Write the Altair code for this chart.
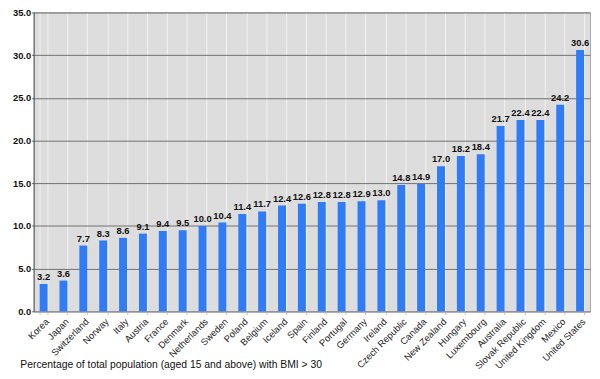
import altair as alt
import pandas as pd

countries = ["Korea", "Japan", "Switzerland", "Norway", "Italy", "Austria", "France",
             "Denmark", "Netherlands", "Sweden", "Poland", "Belgium", "Iceland", "Spain",
             "Finland", "Portugal", "Germany", "Ireland", "Czech Republic", "Canada",
             "New Zealand", "Hungary", "Luxembourg", "Australia", "Slovak Republic",
             "United Kingdom", "Mexico", "United States"]
values = [3.2, 3.6, 7.7, 8.3, 8.6, 9.1, 9.4, 9.5, 10.0, 10.4, 11.4, 11.7, 12.4, 12.6,
          12.8, 12.8, 12.9, 13.0, 14.8, 14.9, 17.0, 18.2, 18.4, 21.7, 22.4, 22.4, 24.2, 30.6]

df = pd.DataFrame({"country": countries, "value": values})

FONT = "Liberation Sans"

x = alt.X("country:N", sort=countries,
          scale=alt.Scale(paddingInner=0.6, paddingOuter=0.3),
          axis=alt.Axis(title="Percentage of total population (aged 15 and above) with BMI > 30",
                        titleFont=FONT, titleFontSize=10.5, titleFontWeight="normal",
                        titleAnchor="start", titleAlign="left", titleX=-14, titleY=54,
                        titleBaseline="middle", titleColor="#111",
                        labelAngle=-45, labelAlign="right", labelBaseline="top",
                        labelFont=FONT, labelFontSize=9.5, labelColor="#222",
                        labelPadding=2,
                        grid=True, gridColor="#F2F2F2", gridWidth=1, tickBand="extent",
                        ticks=True, tickColor="#BBBBBB", tickSize=3,
                        domain=True, domainColor="#999999"))
y = alt.Y("value:Q",
          scale=alt.Scale(domain=[0, 35], nice=False),
          axis=alt.Axis(title=None, values=[0, 5, 10, 15, 20, 25, 30, 35], format=".1f",
                        labelFont=FONT, labelFontSize=9.5, labelFontWeight="bold",
                        labelColor="#111", labelPadding=1,
                        grid=True, gridColor="#707070", gridWidth=1,
                        ticks=True, tickSize=2, tickColor="#555",
                        domain=True, domainColor="#555555"))

bars = alt.Chart(df).mark_bar(color="#2F7CF6").encode(x=x, y=y)
labels = alt.Chart(df).mark_text(dy=-7, font=FONT, fontSize=9.5, fontWeight="bold",
                                 color="#111").encode(
    x=alt.X("country:N", sort=countries), y="value:Q", text=alt.Text("value:Q", format=".1f"))

chart = (bars + labels).properties(
    width=564, height=303,
    autosize=alt.AutoSizeParams(type="none"),
    padding={"left": 26, "top": 2, "right": 2, "bottom": 60},
    background="white",
).configure_view(fill="#DDDDDD", stroke="#AAAAAA", strokeWidth=1)

chart.save("out.html", embed_options={"renderer": "svg", "actions": False})
